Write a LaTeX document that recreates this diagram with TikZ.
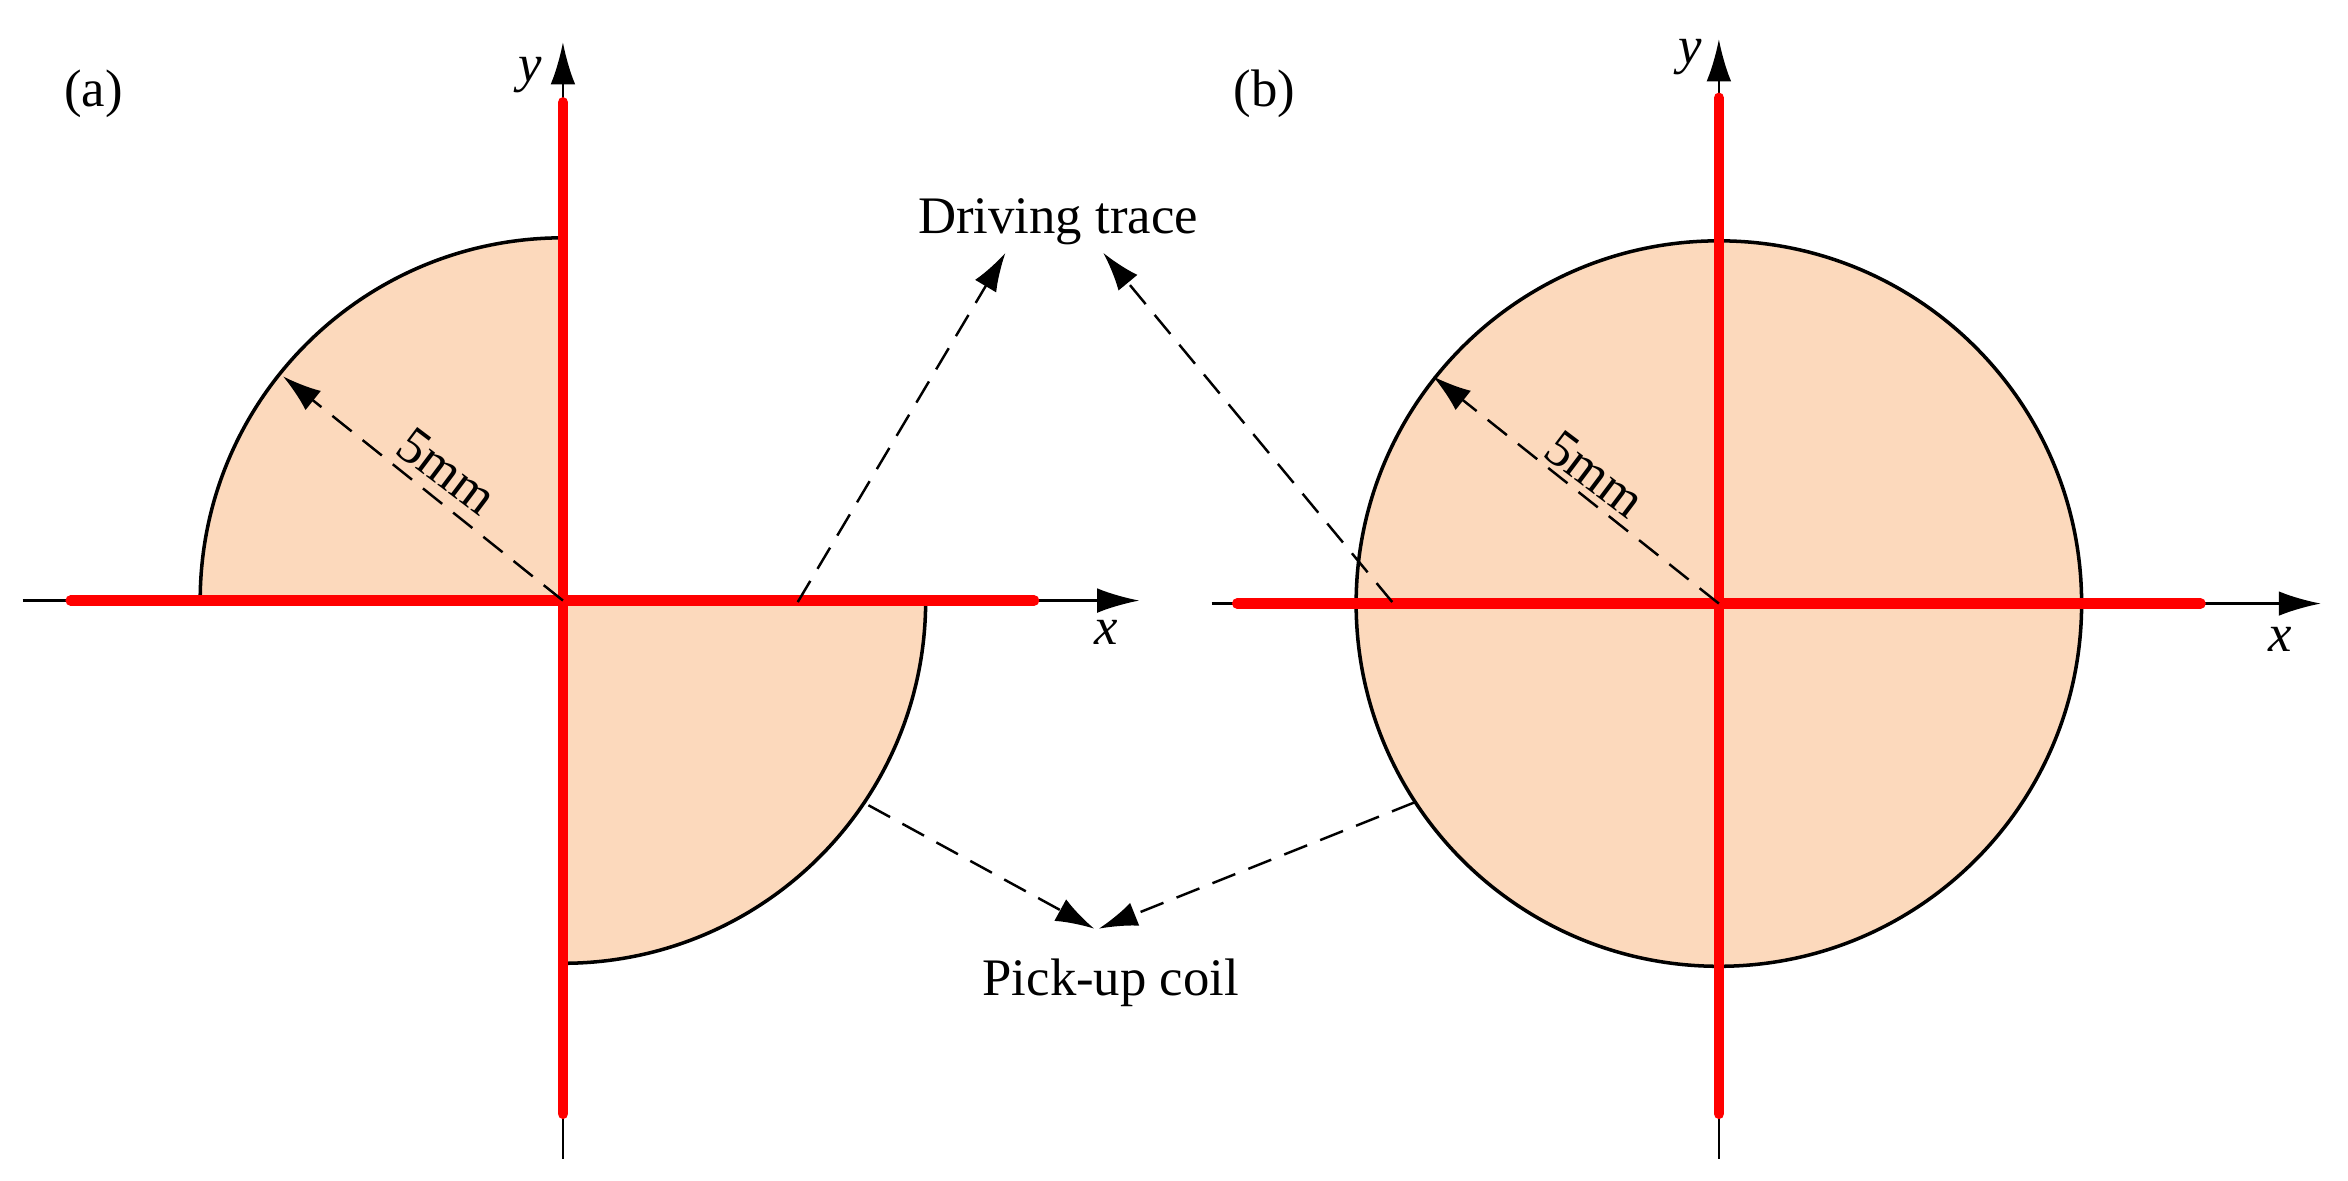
\documentclass[tikz,border=0pt]{standalone}
\usepackage{fontspec}
\setmainfont{Liberation Serif}
\usetikzlibrary{arrows.meta}
\definecolor{peach}{HTML}{FCD9BC}
\begin{document}
\begin{tikzpicture}[x=0.01505cm,y=-0.01505cm,
  txt/.style={font=\fontsize{15}{18}\selectfont},
  ax/.style={line width=0.7pt,-{Latex[length=12pt,width=7pt]}},
  red/.style={draw=red,line width=3pt,line cap=round},
  dsh/.style={dashed,dash pattern=on 7pt off 4pt,line width=0.7pt,-{Latex[length=11pt,width=7pt]}},
  bd/.style={draw=black,line width=1pt}]
\useasboundingbox (0,0) rectangle (1560,784.6);
% (a)
\coordinate (oa) at (374,399);
\fill[peach] (oa) -- (133,399) arc[start angle=180,end angle=90,x radius=241,y radius=-241] -- cycle;
\fill[peach] (oa) -- (615,399) arc[start angle=0,end angle=-90,x radius=241,y radius=-241] -- cycle;
\draw[bd] (133,399) arc[start angle=180,end angle=90,x radius=241,y radius=-241];
\draw[bd] (615,399) arc[start angle=0,end angle=-90,x radius=241,y radius=-241];
\coordinate (axl) at (15,399); \coordinate (axr) at (757,399);
\coordinate (ayb) at (374,770); \coordinate (ayt) at (374,28);
\draw[ax] (axl) -- (axr);
\draw[ax] (ayb) -- (ayt);
\coordinate (ra1) at (47,399); \coordinate (ra2) at (687,399);
\coordinate (ra3) at (374,68); \coordinate (ra4) at (374,740);
\draw[red] (ra1) -- (ra2);
\draw[red] (ra3) -- (ra4);
\coordinate (rta) at (188,250);
\draw[dsh] (oa) -- (rta);
\node[txt,rotate=-37] (la) at (297,313) {5mm};
\node[txt] (ya) at (352,50) {\textit{y}};
\node[txt] (xa) at (735,420) {\textit{x}};
\node[txt] (ta) at (62,62) {(a)};
% (b)
\coordinate (ob) at (1142,401);
\fill[peach] (ob) circle[radius=241];
\draw[bd] (ob) circle[radius=241];
\coordinate (bxl) at (805,401); \coordinate (bxr) at (1542,401);
\coordinate (byb) at (1142,770); \coordinate (byt) at (1142,26);
\draw[ax] (bxl) -- (bxr);
\draw[ax] (byb) -- (byt);
\coordinate (rb1) at (822,401); \coordinate (rb2) at (1462,401);
\coordinate (rb3) at (1142,65); \coordinate (rb4) at (1142,740);
\draw[red] (rb1) -- (rb2);
\draw[red] (rb3) -- (rb4);
\coordinate (rtb) at (952,250);
\draw[dsh] (ob) -- (rtb);
\node[txt,rotate=-37] (lb) at (1060,315) {5mm};
\node[txt] (yb) at (1123,38) {\textit{y}};
\node[txt] (xb) at (1515,425) {\textit{x}};
\node[txt] (tb) at (840,62) {(b)};
% labels
\node[txt] (dt) at (703,147) {Driving trace};
\node[txt] (pc) at (738,653) {Pick-up coil};
\coordinate (d1) at (530,400); \coordinate (d1e) at (668,168);
\coordinate (d2) at (925,400); \coordinate (d2e) at (733,168);
\draw[dsh] (d1) -- (d1e);
\draw[dsh] (d2) -- (d2e);
\coordinate (p1) at (577,535); \coordinate (p1e) at (727,617);
\coordinate (p2) at (940,533); \coordinate (p2e) at (730,617);
\draw[dsh] (p1) -- (p1e);
\draw[dsh] (p2) -- (p2e);
\end{tikzpicture}
\end{document}
